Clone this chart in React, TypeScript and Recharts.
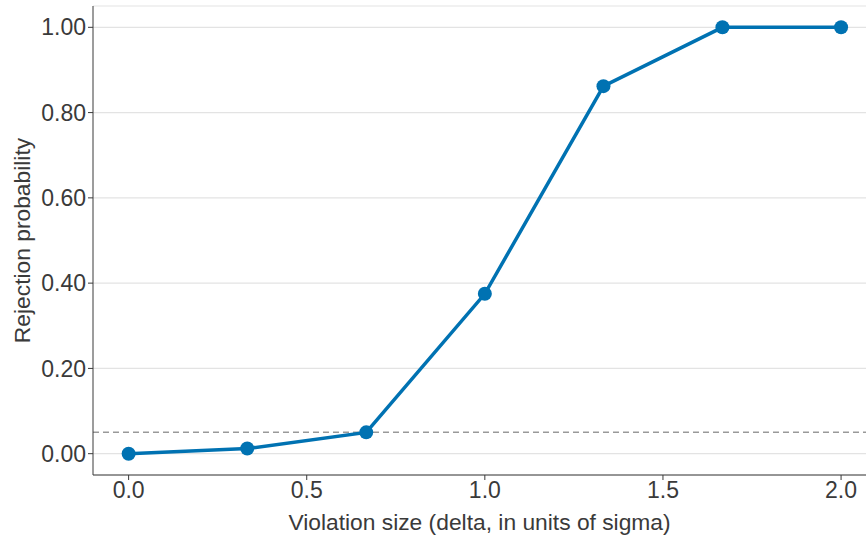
import React from 'react';
import { LineChart, Line, XAxis, YAxis, CartesianGrid, ReferenceLine } from 'recharts';

const deltas = [0, 0.333, 0.667, 1.0, 1.333, 1.667, 2.0];
const rejection = [0.0, 0.012, 0.05, 0.375, 0.862, 1.0, 1.0];
const xTicks = [0, 0.5, 1.0, 1.5, 2.0];
const yTicks = [0, 0.2, 0.4, 0.6, 0.8, 1.0];
const nominalLevel = 0.05;

const data = deltas.map((x, i) => ({ x, p: rejection[i] }));

const FONT = '"Liberation Sans", Arial, Helvetica, sans-serif';
const INK = '#3a3a3a';

export default function App() {
  return (
    <div style={{ position: 'absolute', left: 0, top: 0, background: '#fff' }}>
      <LineChart width={866} height={538} data={data} margin={{ top: 6, right: 0, bottom: 0, left: 0 }}>
        <CartesianGrid horizontal vertical={false} stroke="#e3e3e3" strokeWidth={1.2} />
        <XAxis
          type="number"
          dataKey="x"
          domain={[-0.1, 2.07]}
          allowDataOverflow
          ticks={xTicks}
          tickFormatter={(v: number) => v.toFixed(1)}
          height={63}
          stroke={INK}
          tickSize={5}
          tick={{ fill: INK, fontSize: 23, fontFamily: FONT }}
          label={{ value: 'Violation size (delta, in units of sigma)', position: 'insideBottom', offset: 8, fill: INK, fontSize: 22.8, fontFamily: FONT }}
        />
        <YAxis
          type="number"
          domain={[-0.05, 1.05]}
          allowDataOverflow
          ticks={yTicks}
          tickFormatter={(v: number) => v.toFixed(2)}
          width={93}
          stroke={INK}
          tickSize={5}
          tick={{ fill: INK, fontSize: 23, fontFamily: FONT }}
          label={{ value: 'Rejection probability', angle: -90, position: 'insideLeft', offset: 22, fill: INK, fontSize: 22.8, fontFamily: FONT, style: { textAnchor: 'middle' } }}
        />
        <ReferenceLine y={nominalLevel} stroke="#999" strokeDasharray="6 4" strokeWidth={1.5} />
        <Line
          type="linear"
          dataKey="p"
          stroke="#0072B2"
          strokeWidth={3.5}
          dot={{ r: 7, fill: '#0072B2', stroke: '#0072B2', strokeWidth: 0 }}
          activeDot={false}
          isAnimationActive={false}
        />
      </LineChart>
    </div>
  );
}
